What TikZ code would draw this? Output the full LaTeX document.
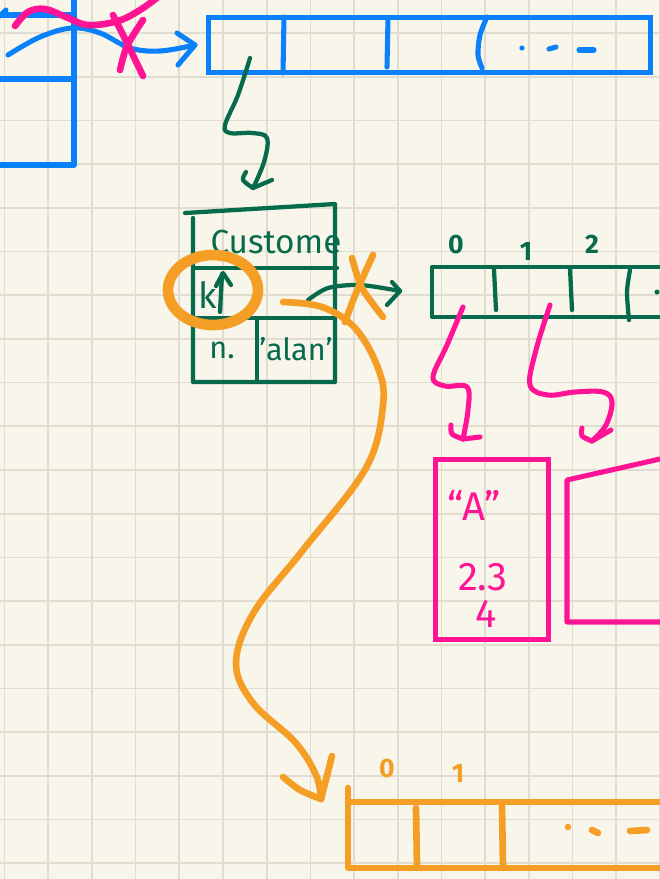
\documentclass[tikz,border=0pt]{standalone}
\usepackage{fontspec}
\setmainfont{Fira Sans}
\definecolor{paper}{RGB}{248,246,234}
\definecolor{gridc}{RGB}{224,221,208}
\definecolor{cblue}{RGB}{10,128,250}
\definecolor{cpink}{RGB}{255,20,150}
\definecolor{cgreen}{RGB}{8,106,76}
\definecolor{corange}{RGB}{245,158,38}
\tikzset{
  gridline/.style={draw=gridc, line width=1.3pt},
  bl/.style={draw=cblue, line width=3.8pt, line cap=round, line join=round},
  gr/.style={draw=cgreen, line width=3.2pt, line cap=round, line join=round},
  pk/.style={draw=cpink, line width=3.8pt, line cap=round, line join=round},
  og/.style={draw=corange, line width=5pt, line cap=round, line join=round},
  gtext/.style={text=cgreen, inner sep=0pt, font=\fontsize{23}{25}\selectfont},
  ptext/.style={text=cpink, inner sep=0pt, font=\fontsize{30}{32}\selectfont},
  otext/.style={text=corange, inner sep=0pt, font=\fontsize{20}{22}\selectfont\bfseries},
  idx/.style={text=cgreen, inner sep=0pt, font=\fontsize{20}{22}\selectfont\bfseries}
}
\begin{document}
\begin{tikzpicture}[x=0.75pt,y=-0.75pt]
\useasboundingbox (0,0) rectangle (660,879);
\clip (0,0) rectangle (660,879);
\fill[paper] (0,0) rectangle (660,879);
\foreach \k in {0,...,15} \draw[gridline] ({4.5+43.7*\k},0) -- ({4.5+43.7*\k},879);
\foreach \k in {-1,...,19} \draw[gridline] (0,{33+43.7*\k}) -- (660,{33+43.7*\k});

% ---------- blue: left struct fragment ----------
\draw[bl] (0,15) -- (74,15);
\draw[bl] (74,-5) -- (74,165) -- (0,165);
\draw[bl] (0,79) -- (74,79);
\draw[bl] (0,16) -- (6,10);

% ---------- blue array ----------
\node[draw=cblue, line width=3.8pt, minimum width=442*0.75pt, minimum height=55*0.75pt, inner sep=0pt, anchor=north west] (barr) at (206,15) {};
\draw[bl] (284,17) -- (283,73);
\draw[bl] (388,18) -- (387,67);
\draw[bl] plot[smooth] coordinates {(487,17) (480,35) (478,55) (482,68)};
\fill[cblue] (522,48) circle (2.6);
\draw[bl] (549,49) -- (556,47);
\draw[bl] (579,50) -- (594,50);

% blue pointer
\coordinate (bs) at (8,55);
\coordinate (bt) at (195,45);
\draw[bl] plot[smooth, tension=0.6] coordinates {(bs) (40,37) (72,28) (100,33) (130,48) (160,51) (bt)};
\draw[bl] (177,33) -- (bt) -- (178,65);

% pink crossing curve and X
\draw[pk, line width=5pt] plot[smooth, tension=0.6] coordinates {(15,26) (28,12) (45,9) (66,17) (88,25) (118,21) (140,10) (158,-3)};
\draw[pk, line width=5pt] plot[smooth] coordinates {(113,15) (128,45) (143,76)};
\draw[pk, line width=5pt] plot[smooth] coordinates {(143,20) (127,46) (120,70)};

% ---------- green squiggle ----------
\coordinate (gs) at (250,58);
\coordinate (gt) at (253,188);
\draw[gr] plot[smooth, tension=0.6] coordinates {(gs) (238,95) (225,125) (230,133) (252,133) (267,138) (264,162) (gt)};
\draw[gr] plot[smooth] coordinates {(246,172) (243,180) (gt)};
\draw[gr] (gt) -- (272,180);

% ---------- green struct ----------
\draw[gr] (185,213) -- (335,204) -- (335,382) -- (193,382) -- (193,218);
\draw[gr] (195,268) -- (337,268);
\draw[gr] (193,318) -- (335,318);
\draw[gr] (257,318) -- (257,382);
\node[gtext, font=\fontsize{25}{27}\selectfont] (cust) at (276,242) {Custome};
\node[gtext, font=\fontsize{27}{29}\selectfont] (kk) at (208,295) {k};
\draw[gr] (220,312) -- (222,274);
\draw[gr] (216,286) -- (223,273) -- (231,285);
\node[gtext] (nn) at (222,350) {n.};
\node[gtext] (alan) at (296,349) {'alan'};

% green pointer
\coordinate (ps) at (308,300);
\coordinate (pt) at (400,291);
\draw[gr] plot[smooth] coordinates {(ps) (328,288) (360,285) (pt)};
\draw[gr] (392,282) -- (pt) -- (387,305);

% ---------- green array ----------
\draw[gr] (670,267) -- (432,267) -- (432,317) -- (670,317);
\draw[gr] (494,269) -- (496,310);
\draw[gr] (570,268) -- (572,310);
\draw[gr] plot[smooth] coordinates {(630,270) (627,292) (629,320)};
\fill[cgreen] (657,292) circle (2.5);
\node[idx] (i0) at (456,245) {0};
\node[idx] (i1) at (526,251) {1};
\node[idx] (i2) at (592,244) {2};

% pink pointers
\coordinate (a0) at (463,307);
\coordinate (t0) at (463,439);
\draw[pk] plot[smooth, tension=0.6] coordinates {(a0) (447,345) (433,377) (445,386) (467,387) (468,410) (t0)};
\draw[pk] plot[smooth] coordinates {(451,425) (452,434) (t0)};
\draw[pk] (t0) -- (480,437);
\coordinate (a1) at (550,305);
\coordinate (t1) at (592,441);
\draw[pk] plot[smooth, tension=0.6] coordinates {(a1) (536,350) (530,385) (548,395) (575,392) (603,392) (612,402) (606,425) (t1)};
\draw[pk] plot[smooth] coordinates {(582,428) (582,436) (t1)};
\draw[pk] (t1) -- (611,430);

% ---------- pink boxes ----------
\node[draw=cpink, line width=3.8pt, minimum width=113*0.75pt, minimum height=180*0.75pt, inner sep=0pt, anchor=north west] (pbox) at (433,457) {};
\node[ptext] (sA) at (474,505) {``A''};
\node[ptext] (s23) at (483,577) {2.3};
\node[ptext] (s4) at (486,614) {4};
\draw[pk] (660,459) -- (567,480) -- (567,622) -- (660,622);

% ---------- orange ----------
\draw[og, line width=8pt] (213,290) ellipse (45 and 35);
\draw[og] plot[smooth] coordinates {(352,258) (362,288) (383,317)};
\draw[og] plot[smooth] coordinates {(373,255) (356,293) (345,322)};
\coordinate (os) at (283,302);
\coordinate (ot) at (321,799);
\draw[og] plot[smooth, tension=0.6] coordinates {(os) (322,307) (355,328) (378,368) (383,405) (366,468) (303,550) (254,612) (236,663) (253,703) (295,742) (316,775) (ot)};
\draw[og] plot[smooth] coordinates {(283,777) (300,790) (ot)};
\draw[og] (332,756) -- (ot);

% orange array
\draw[og] (348,788) -- (348,868) -- (670,868);
\draw[og] (348,802) -- (670,802);
\draw[og] (416,808) -- (417,866);
\draw[og] (502,806) -- (503,866);
\fill[corange] (568,827) circle (3.2);
\draw[og] (592,830) -- (598,833);
\draw[og] (630,831) -- (647,830);
\node[otext] (o0) at (387,769) {0};
\node[otext] (o1) at (458,773) {1};
\end{tikzpicture}
\end{document}
